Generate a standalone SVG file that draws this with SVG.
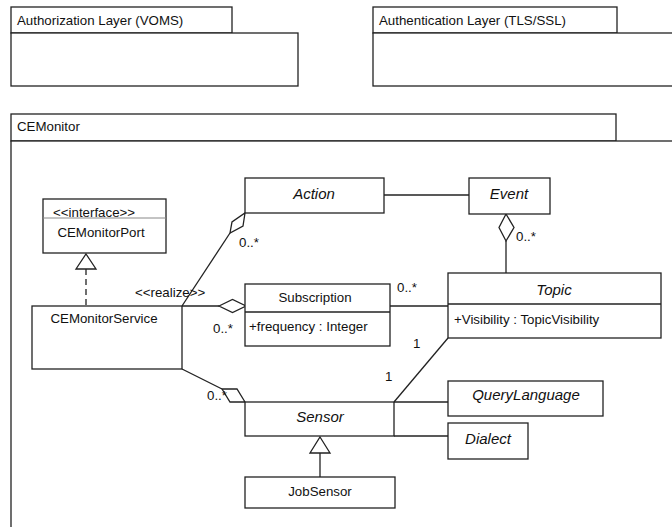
<svg xmlns="http://www.w3.org/2000/svg" width="672" height="527" viewBox="0 0 672 527">
<style>
.b{fill:#fff;stroke:#222;stroke-width:1.3}
.l{fill:none;stroke:#222;stroke-width:1.3}
.d{fill:#fff;stroke:#222;stroke-width:1.3}
text{font-family:"Liberation Sans",Arial,sans-serif;font-size:13.3px;fill:#111}
.i{font-style:italic;font-size:15px}
.c{text-anchor:middle}
</style>
<rect width="672" height="527" fill="#fff"/>
<g id="authorization">
<rect class="b" x="11" y="7" width="221" height="26"/>
<rect class="b" x="11" y="33" width="287" height="53"/>
<text x="17" y="25">Authorization Layer (VOMS)</text>
</g>
<g id="authentication">
<rect class="b" x="373" y="7" width="244" height="26"/>
<rect class="b" x="373" y="33" width="310" height="53"/>
<text x="379" y="25">Authentication Layer (TLS/SSL)</text>
</g>
<g id="cemonitor">
<rect class="b" x="11" y="114" width="605" height="27"/>
<rect class="b" x="11" y="141" width="672" height="400"/>
<text x="17" y="131">CEMonitor</text>
</g>
<g id="connectors">
<line class="l" x1="384" y1="195" x2="469" y2="195"/>
<line class="l" x1="506" y1="241" x2="506" y2="273"/>
<polygon class="d" points="506,214 514,227.5 506,241 499,227.5"/>
<line class="l" x1="182" y1="306" x2="230" y2="233"/>
<polygon class="d" points="245,213 243,226 230,233 232,222"/>
<line class="l" x1="182" y1="306" x2="219" y2="306"/>
<polygon class="d" points="219,306 232.5,299.5 246,306 232.5,312.5"/>
<line class="l" x1="390" y1="306" x2="448" y2="306"/>
<line class="l" x1="182" y1="369" x2="222" y2="389"/>
<polygon class="d" points="222,389 237,389 245,402 230,402"/>
<line class="l" x1="86" y1="269" x2="86" y2="306" stroke-dasharray="6,4"/>
<polygon class="d" points="86,254 96,269 76,269"/>
<line class="l" x1="320" y1="453" x2="320" y2="477"/>
<polygon class="d" points="320,437 330,453 310,453"/>
<line class="l" x1="448" y1="338" x2="394" y2="402"/>
<line class="l" x1="394" y1="402" x2="448" y2="402"/>
<line class="l" x1="394" y1="436" x2="448" y2="436"/>
<text x="516" y="241">0..*</text>
<text x="239" y="247">0..*</text>
<text x="135" y="297">&lt;&lt;realize&gt;&gt;</text>
<text x="213" y="333">0..*</text>
<text x="397" y="292">0..*</text>
<text x="207" y="400">0..*</text>
<text x="413" y="348">1</text>
<text x="385" y="381">1</text>
</g>
<g id="action">
<rect class="b" x="245" y="178" width="139" height="35"/>
<text class="i c" x="314" y="199">Action</text>
</g>
<g id="event">
<rect class="b" x="469" y="178" width="81" height="36"/>
<text class="i c" x="509" y="199">Event</text>
</g>
<g id="cemonitorport">
<rect class="b" x="43" y="199" width="123" height="54"/>
<line x1="43" y1="218" x2="166" y2="218" stroke="#888" stroke-width="1"/>
<text x="53" y="217">&lt;&lt;interface&gt;&gt;</text>
<text class="c" x="101" y="237">CEMonitorPort</text>
</g>
<g id="cemonitorservice">
<rect class="b" x="32" y="306" width="150" height="63"/>
<text class="c" x="104" y="323">CEMonitorService</text>
</g>
<g id="subscription">
<rect class="b" x="245" y="284" width="145" height="62"/>
<line class="l" x1="245" y1="312" x2="390" y2="312"/>
<text class="c" x="315" y="302">Subscription</text>
<text x="249" y="331">+frequency : Integer</text>
</g>
<g id="topic">
<rect class="b" x="448" y="273" width="213" height="65"/>
<line class="l" x1="448" y1="304" x2="661" y2="304"/>
<text class="i c" x="554" y="295">Topic</text>
<text x="454" y="324">+Visibility : TopicVisibility</text>
</g>
<g id="sensor">
<rect class="b" x="245" y="402" width="149" height="34"/>
<text class="i c" x="320" y="422">Sensor</text>
</g>
<g id="jobsensor">
<rect class="b" x="245" y="477" width="150" height="31"/>
<text class="c" x="320" y="496">JobSensor</text>
</g>
<g id="querylanguage">
<rect class="b" x="448" y="381" width="155" height="35"/>
<text class="i c" x="526" y="400">QueryLanguage</text>
</g>
<g id="dialect">
<rect class="b" x="448" y="423" width="80" height="36"/>
<text class="i c" x="488" y="444">Dialect</text>
</g>
</svg>
